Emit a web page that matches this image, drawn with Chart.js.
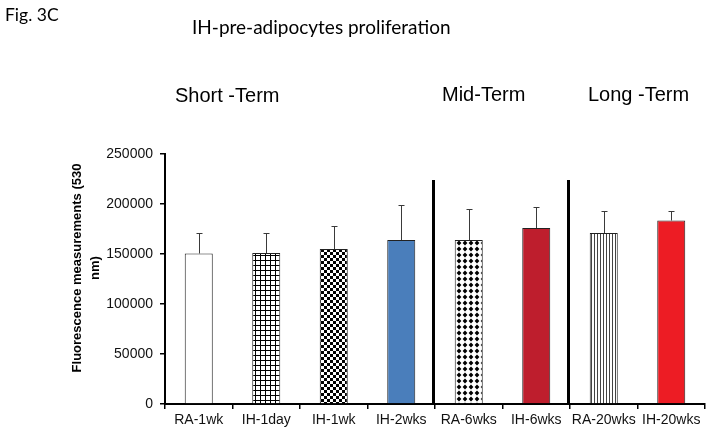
<!DOCTYPE html>
<html>
<head>
<meta charset="utf-8">
<script src="https://cdn.jsdelivr.net/npm/chart.js@4/dist/chart.umd.min.js"></script>
<style>
html,body{margin:0;padding:0;background:#fff;}
canvas{display:block;}
</style>
</head>
<body>
<canvas id="c" width="712" height="434"></canvas>
<script>
// ---- data ----
const categories = ["RA-1wk","IH-1day","IH-1wk","IH-2wks","RA-6wks","IH-6wks","RA-20wks","IH-20wks"];
const means  = [150500, 151000, 155000, 164000, 164000, 176000, 171000, 183500];
const errors = [21000, 20500, 23500, 35500, 31000, 21500, 22500, 9500];
const yTickStep = 50000;
const yMax = 250000;
const figLabel = "Fig. 3C";
const chartTitle = "IH-pre-adipocytes proliferation";
const sectionLabels = ["Short -Term", "Mid-Term", "Long -Term"];
const yTitle = ["Fluorescence measurements (530", "nm)"];
const separatorTop = 224000;
const separatorAfter = [3, 5]; // separators after these category indexes

// ---- patterns ----
function tile(w, h, draw) {
  const c = document.createElement('canvas');
  c.width = w; c.height = h;
  const g = c.getContext('2d');
  g.fillStyle = '#fff'; g.fillRect(0, 0, w, h);
  draw(g);
  return document.getElementById('c').getContext('2d').createPattern(c, 'repeat');
}
const pGrid = tile(5, 5, g => { g.fillStyle = '#000'; g.fillRect(0, 0, 5, 1); g.fillRect(0, 0, 1, 5); });
const pCheck = tile(6, 6, g => { g.fillStyle = '#000'; g.fillRect(0, 0, 3, 3); g.fillRect(3, 3, 3, 3); });
const pDiamond = tile(6, 6, g => {
  g.fillStyle = '#000'; g.beginPath();
  g.moveTo(3, 0.6); g.lineTo(5.4, 3); g.lineTo(3, 5.4); g.lineTo(0.6, 3); g.closePath(); g.fill();
});
const pVert = tile(3, 3, g => { g.fillStyle = '#444'; g.fillRect(0, 0, 1, 3); });
const fills = ['#ffffff', pGrid, pCheck, '#4a7ebb', pDiamond, '#be1e2d', pVert, '#ed1c24'];

// ---- plugin: error bars, separators, texts ----
const extras = {
  id: 'extras',
  afterDatasetsDraw(chart) {
    const ctx = chart.ctx;
    const ys = chart.scales.y, xs = chart.scales.x;
    const meta = chart.getDatasetMeta(0);
    ctx.save();
    ctx.strokeStyle = '#3a3a3a';
    ctx.lineWidth = 1;
    meta.data.forEach((el, i) => {
      const x = Math.round(el.x) + 0.5;
      const yt = ys.getPixelForValue(means[i]);
      const ye = Math.round(ys.getPixelForValue(means[i] + errors[i])) + 0.5;
      ctx.beginPath();
      ctx.moveTo(x, yt); ctx.lineTo(x, ye);
      ctx.moveTo(x - 3, ye); ctx.lineTo(x + 3, ye);
      ctx.stroke();
    });
    // separators
    ctx.strokeStyle = '#000';
    ctx.lineWidth = 3;
    separatorAfter.forEach(i => {
      const x = (xs.getPixelForValue(i) + xs.getPixelForValue(i + 1)) / 2 - 1.5;
      ctx.beginPath();
      ctx.moveTo(x, ys.getPixelForValue(separatorTop));
      ctx.lineTo(x, ys.getPixelForValue(0));
      ctx.stroke();
    });
    ctx.restore();
  },
  afterDraw(chart) {
    const ctx = chart.ctx;
    ctx.save();
    ctx.fillStyle = '#000';
    ctx.textBaseline = 'alphabetic';
    ctx.textAlign = 'left';
    ctx.font = '17.5px Lato, "Open Sans", sans-serif';
    ctx.fillText(figLabel, 5, 21);
    ctx.font = '19px Lato, "Open Sans", sans-serif';
    ctx.fillText(chartTitle, 192, 34);
    ctx.font = '20px "Liberation Sans", Arial, sans-serif';
    ctx.fillText(sectionLabels[0], 175, 102);
    ctx.fillText(sectionLabels[1], 442, 101);
    ctx.fillText(sectionLabels[2], 588, 101);
    // y axis title
    ctx.font = 'bold 13px "Liberation Sans", Arial, sans-serif';
    ctx.textAlign = 'center';
    ctx.textBaseline = 'middle';
    ctx.translate(86, 268);
    ctx.rotate(-Math.PI / 2);
    ctx.fillText(yTitle[0], 0, -9);
    ctx.fillText(yTitle[1], 0, 9);
    ctx.restore();
  }
};

new Chart(document.getElementById('c'), {
  type: 'bar',
  data: {
    labels: categories,
    datasets: [{
      data: means,
      backgroundColor: fills,
      borderColor: '#222',
      borderWidth: 1,
      categoryPercentage: 1,
      barPercentage: 0.415
    }]
  },
  options: {
    responsive: false,
    animation: false,
    devicePixelRatio: 1,
    layout: { padding: { top: 154, right: 7, bottom: 0, left: 0 } },
    plugins: { legend: { display: false }, tooltip: { enabled: false }, title: { display: false } },
    scales: {
      x: {
        afterFit(s) { s.height = 30; },
        grid: { display: true, drawOnChartArea: false, drawTicks: true, tickLength: 5, color: '#000', lineWidth: 1.5, offset: true },
        border: { display: true, color: '#000', width: 2 },
        ticks: { color: '#111', font: { family: '"Liberation Sans", Arial, sans-serif', size: 14 }, padding: 3, maxRotation: 0, autoSkip: false }
      },
      y: {
        min: 0, max: yMax,
        afterFit(s) { s.width = 165; },
        grid: { display: true, drawOnChartArea: false, drawTicks: true, tickLength: 5, color: '#000', lineWidth: 1.5 },
        border: { display: true, color: '#000', width: 2 },
        ticks: { stepSize: yTickStep, color: '#111', font: { family: '"Liberation Sans", Arial, sans-serif', size: 14 }, padding: 7,
                 callback: v => String(v) }
      }
    }
  },
  plugins: [extras]
});
</script>
</body>
</html>
